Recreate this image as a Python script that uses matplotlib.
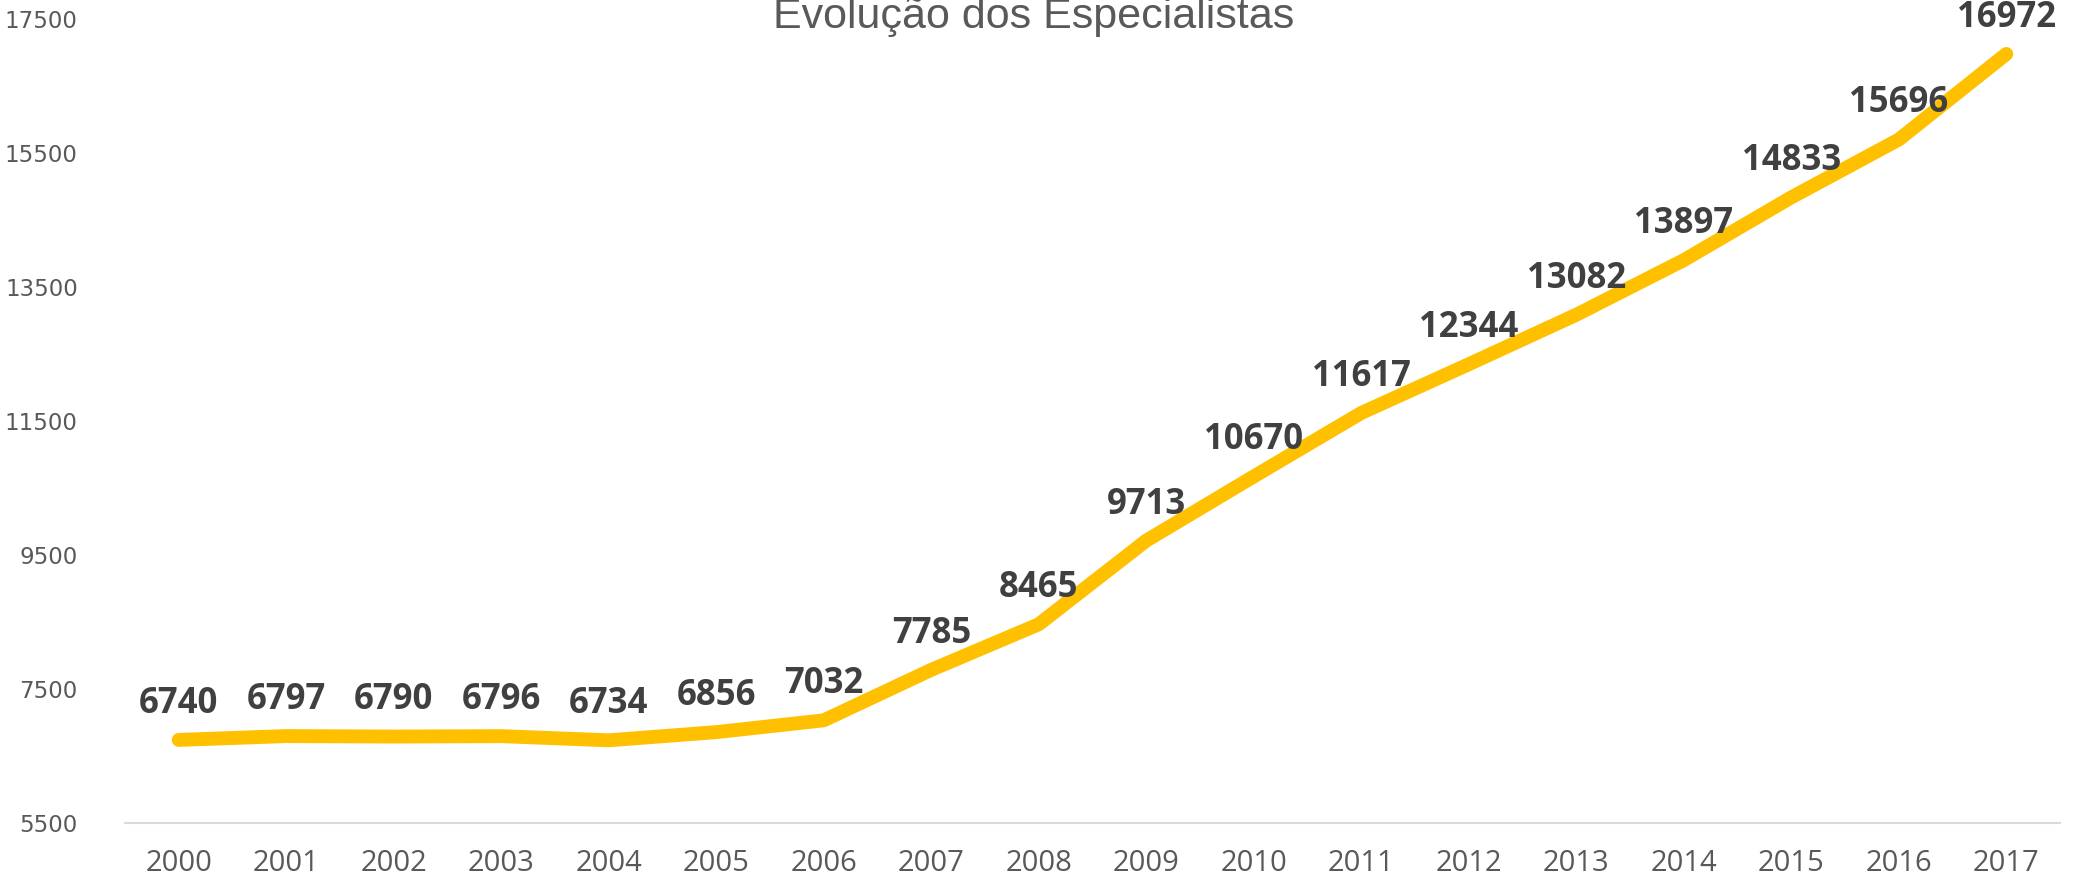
"""
plot.py
Evolução dos Especialistas, 2000-2017 (line chart with data labels).
"""

import matplotlib
matplotlib.use("Agg")
import matplotlib.pyplot as plt

# --------------------------------------------------------------------------
# Data
# --------------------------------------------------------------------------

years = [str(y) for y in range(2000, 2018)]
specialists = [6740, 6797, 6790, 6796, 6734, 6856, 7032, 7785, 8465,
               9713, 10670, 11617, 12344, 13082, 13897, 14833, 15696, 16972]
y_ticks = [5500, 7500, 9500, 11500, 13500, 15500, 17500]

TITLE = "Evolução dos Especialistas"
LINE_COLOR = "#FFC000"
TEXT_GREY = "#595959"
LABEL_DARK = "#404040"

# --------------------------------------------------------------------------
# Chart
# --------------------------------------------------------------------------

fig = plt.figure(figsize=(20.79, 8.81), dpi=100)
ax = fig.add_axes([0.0601, 0.0658, 0.9308, 0.9131])

x = list(range(len(years)))
ax.plot(x, specialists, color=LINE_COLOR, linewidth=10,
        solid_capstyle="round", solid_joinstyle="round")

for xi, v in zip(x, specialists):
    ax.annotate(f"{v}", (xi, v), xytext=(0, 13), textcoords="offset points",
                ha="center", va="bottom", fontsize=25, fontweight="bold",
                family="Open Sans", color=LABEL_DARK)

ax.set_xlim(-0.5, len(years) - 0.5)
ax.set_ylim(y_ticks[0], y_ticks[-1])
ax.set_xticks(x)
ax.set_xticklabels(years, family="Open Sans", fontsize=21, color=TEXT_GREY)
ax.set_yticks(y_ticks)
ax.set_yticklabels([str(t) for t in y_ticks], family="DejaVu Sans",
                   fontsize=16.5, color=TEXT_GREY)
ax.tick_params(axis="x", length=0, pad=19)
ax.tick_params(axis="y", length=0, pad=34)

for side in ("top", "right", "left"):
    ax.spines[side].set_visible(False)
ax.spines["bottom"].set_color("#D9D9D9")
ax.spines["bottom"].set_linewidth(1.5)
ax.patch.set_alpha(0)

# title sits partly above the top edge, as in the source image
fig.text(0.497, 0.968, TITLE, ha="center", va="baseline",
         fontsize=31, family="Liberation Sans", color=TEXT_GREY)

fig.savefig("out.png", dpi=100)
plt.close(fig)
